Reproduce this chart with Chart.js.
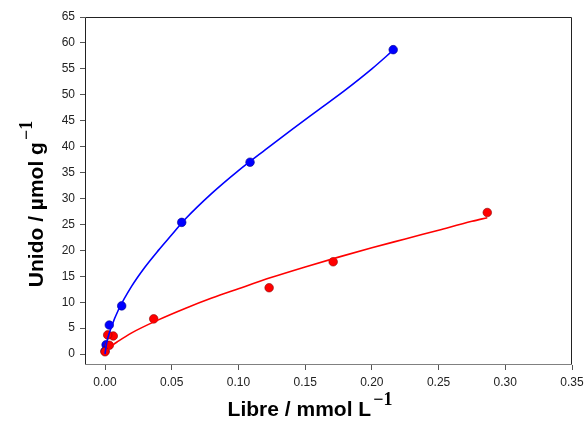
<!DOCTYPE html>
<html><head><meta charset="utf-8">
<script src="https://cdn.jsdelivr.net/npm/chart.js@4.4.1/dist/chart.umd.min.js"></script>
<style>html,body{margin:0;padding:0;background:#fff}#wrap{width:584px;height:424px}</style>
</head><body><div id="wrap"><canvas id="c" width="584" height="424"></canvas></div>
<script>
// Measured points
const blueX = [0.216, 0.1087, 0.0575, 0.0125, 0.0032, 0.0008, 0.0];
const blueY = [58.7, 37.0, 25.4, 9.3, 5.6, 1.8, 0.6];
const redX = [0.2865, 0.171, 0.123, 0.0365, 0.0062, 0.002, 0.0032, 0.0];
const redY = [27.3, 17.8, 12.8, 6.8, 3.5, 3.7, 1.7, 0.45];
// Fitted curves
const blueFitX = [0, 0.001, 0.002, 0.005, 0.01, 0.02, 0.03, 0.04, 0.05, 0.06, 0.08, 0.1, 0.12, 0.14, 0.16, 0.18, 0.2, 0.216];
const blueFitY = [0, 1.8, 3.0, 5.4, 8.5, 13.1, 16.8, 20.0, 23.0, 26.0, 31.0, 35.4, 39.4, 43.3, 47.1, 50.9, 55.0, 58.6];
const redFitX = [0, 0.001, 0.003, 0.005, 0.01, 0.02, 0.04, 0.06, 0.08, 0.1, 0.125, 0.15, 0.175, 0.2, 0.225, 0.25, 0.275, 0.2865];
const redFitY = [0, 0.5, 1.1, 1.6, 2.5, 4.1, 6.6, 8.8, 10.8, 12.6, 14.8, 16.8, 18.7, 20.5, 22.2, 23.9, 25.6, 26.3];
const xTicks = [0, 0.05, 0.1, 0.15, 0.2, 0.25, 0.3, 0.35];
const yTicks = [0, 5, 10, 15, 20, 25, 30, 35, 40, 45, 50, 55, 60, 65];
const xTitle = "Libre / mmol L", xSup = "\u22121";
const yTitle = "Unido / \u00b5mol g", ySup = "\u22121";

const pts = (xs, ys) => xs.map((x, i) => ({x: x, y: ys[i]}));

const frame = {
  id: 'frame',
  afterDraw(chart) {
    const ctx = chart.ctx, a = chart.chartArea;
    ctx.save();
    ctx.strokeStyle = '#222';
    ctx.lineWidth = 1;
    ctx.beginPath();
    ctx.moveTo(a.left + 0.5, a.bottom); ctx.lineTo(a.left + 0.5, a.top + 0.5);
    ctx.lineTo(a.right - 0.5, a.top + 0.5); ctx.lineTo(a.right - 0.5, a.bottom);
    ctx.stroke();
    ctx.strokeStyle = '#808080';
    ctx.beginPath();
    ctx.moveTo(a.left, a.bottom - 0.5); ctx.lineTo(a.right, a.bottom - 0.5);
    ctx.stroke();
    ctx.fillStyle = '#000';
    ctx.textBaseline = 'alphabetic';
    const main = 'bold 21px "Liberation Sans", Arial, sans-serif';
    const sup = 'bold 18px "Liberation Serif", "Times New Roman", serif';
    function drawTitle(t, s, cx, by) {
      ctx.font = main; const w1 = ctx.measureText(t).width;
      ctx.font = sup; const w2 = ctx.measureText(s).width;
      const start = cx - (w1 + 2 + w2) / 2;
      ctx.font = main; ctx.textAlign = 'left';
      ctx.fillText(t, start, by);
      ctx.font = sup;
      ctx.fillText(s, start + w1 + 2, by - 11);
    }
    drawTitle(xTitle, xSup, 310, 416);
    ctx.save();
    ctx.translate(43, 204);
    ctx.rotate(-Math.PI / 2);
    drawTitle(yTitle, ySup, 0, 0);
    ctx.restore();
    ctx.restore();
  }
};

new Chart(document.getElementById('c'), {
  type: 'scatter',
  data: {
    datasets: [
      {data: pts(blueX, blueY), showLine: false, backgroundColor: '#0000ff', borderColor: '#00008b', borderWidth: 0.6, pointRadius: 4.3, order: 4},
      {data: pts(redX, redY), showLine: false, backgroundColor: '#ff0000', borderColor: '#8b0000', borderWidth: 0.6, pointRadius: 4.3, order: 3},
      {data: pts(redFitX, redFitY), showLine: true, borderColor: '#ff0000', borderWidth: 1.6, pointRadius: 0, fill: false, cubicInterpolationMode: 'monotone', order: 2},
      {data: pts(blueFitX, blueFitY), showLine: true, borderColor: '#0000ff', borderWidth: 1.6, pointRadius: 0, fill: false, cubicInterpolationMode: 'monotone', order: 1}
    ]
  },
  options: {
    responsive: false,
    animation: false,
    events: [],
    layout: {padding: {left: 0, right: 12, top: 17, bottom: 0}},
    plugins: {legend: {display: false}, tooltip: {enabled: false}},
    scales: {
      x: {
        type: 'linear', min: -0.015, max: 0.35,
        afterBuildTicks: s => { s.ticks = xTicks.map(v => ({value: v})); },
        afterFit: s => { s.height = 59; s.paddingRight = 0; s.paddingLeft = 0; },
        border: {display: false},
        grid: {drawOnChartArea: false, drawTicks: true, tickLength: 5, color: '#555', tickColor: '#555'},
        ticks: {color: '#222', font: {family: '"Liberation Sans", Arial, sans-serif', size: 12}, padding: 5,
          callback: v => v.toFixed(2), maxRotation: 0, autoSkip: false}
      },
      y: {
        type: 'linear', min: -2.1, max: 65,
        afterBuildTicks: s => { s.ticks = yTicks.map(v => ({value: v})); },
        afterFit: s => { s.width = 85; s.paddingTop = 0; s.paddingBottom = 0; },
        border: {display: false},
        grid: {drawOnChartArea: false, drawTicks: true, tickLength: 5, color: '#555', tickColor: '#555'},
        ticks: {color: '#222', font: {family: '"Liberation Sans", Arial, sans-serif', size: 12}, padding: 5, autoSkip: false}
      }
    }
  },
  plugins: [frame]
});
</script></body></html>
